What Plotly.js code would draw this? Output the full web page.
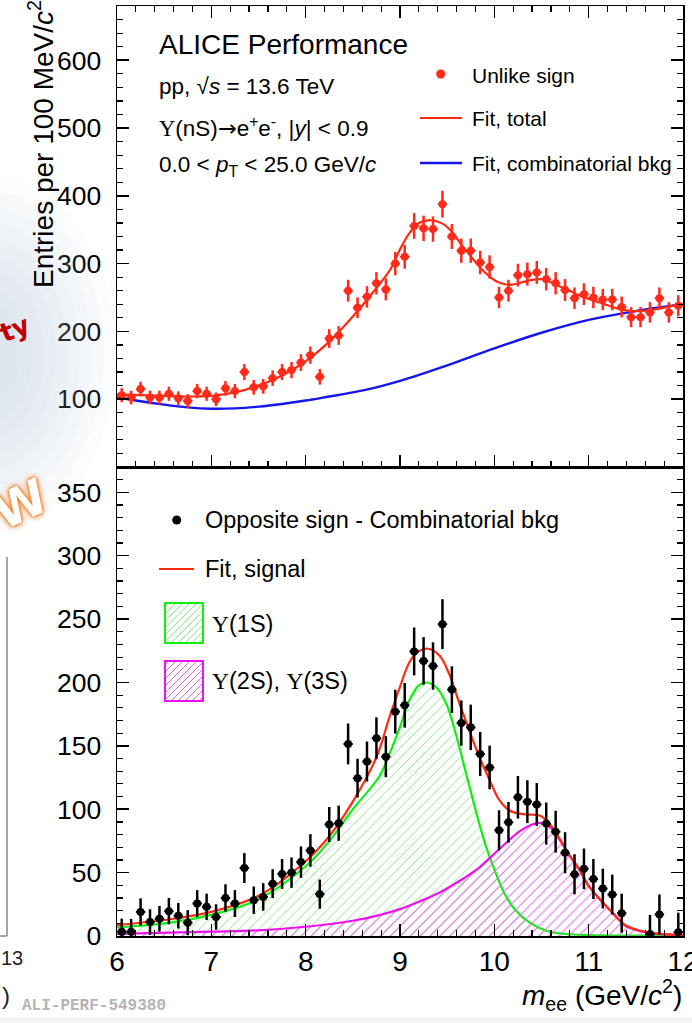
<!DOCTYPE html>
<html><head><meta charset="utf-8">
<script src="https://cdn.plot.ly/plotly-3.0.1.min.js"></script>
<style>html,body{margin:0;padding:0;background:#fff;} #chart{width:692px;height:1023px;}</style>
</head><body><div id="chart"></div>
<script>
// ---------------- data ----------------
const massBins = [6.05,6.15,6.25,6.35,6.45,6.55,6.65,6.75,6.85,6.95,
  7.05,7.15,7.25,7.35,7.45,7.55,7.65,7.75,7.85,7.95,
  8.05,8.15,8.25,8.35,8.45,8.55,8.65,8.75,8.85,8.95,
  9.05,9.15,9.25,9.35,9.45,9.55,9.65,9.75,9.85,9.95,
  10.05,10.15,10.25,10.35,10.45,10.55,10.65,10.75,10.85,10.95,
  11.05,11.15,11.25,11.35,11.45,11.55,11.65,11.75,11.85,11.95];
const unlikeSign = [106,102.5,115,102.5,102.5,108,101.5,97.5,112,108,
  100,116,112,140,117.5,119,131,140,143,154,
  165,133,189.5,194,260,235,251,271,262,300,
  310,355.6,352,351,387.6,340,319,319,301.6,295,
  250,260,283,284.5,287,277,271,261,249,255,
  250,247,247,236,221,221,228,249,228,238];
const oppMinusBkg = [3.4,3.4,19,11,13.6,19.6,16,10.5,25.6,23,
  15,30,25.6,53.6,28.3,30.8,41.3,49,50,58.3,
  67.5,33,88,89,151.5,124.5,137.6,156,141.5,177,
  182,224.5,217,213,246,194.4,168,164.6,143.6,133,
  83.4,89.7,109.4,106,103.8,88.7,82.3,65.7,48.7,53,
  45,37.4,32.7,18,null,null,1.5,17,null,3];
const statErr = [10.3,10.1,10.7,10.1,10.1,10.4,10.1,9.9,10.6,10.4,
  10,10.8,10.6,11.8,10.8,10.9,11.4,11.8,12,12.4,
  12.8,11.5,13.8,13.9,16.1,15.3,15.8,16.5,16.2,17.3,
  17.6,18.9,18.8,18.7,19.7,18.4,17.9,17.9,17.4,17.2,
  15.8,16.1,16.8,16.9,16.9,16.6,16.5,16.2,15.8,16,
  15.8,15.7,15.7,15.4,14.9,14.9,15.1,15.8,15.1,15.4];
const binHalfWidth = [0.05];

const fitTotalX = [6.0,6.25,6.5,6.75,7.0,7.25,7.5,7.75,8.0,8.25,8.5,8.75,8.9,9.0,9.1,9.2,9.33,9.45,9.55,9.65,9.75,9.85,9.95,10.05,10.17,10.28,10.4,10.5,10.6,10.7,10.8,10.9,11.0,11.15,11.3,11.45,11.6,11.75,11.9,12.0];
const fitTotalY = [107,106,105,104,105,110,120,135,156,185,222,264,292,321,345,360,364,359,347,328,311,294,281,272,268.5,272,276,277,273,266,260,253,248,241,234,230,230.5,233.5,238,240];
const fitBkgX = [6.0,6.25,6.5,6.75,7.0,7.25,7.5,7.75,8.0,8.25,8.5,8.75,9.0,9.5,10.0,10.5,11.0,11.5,12.0];
const fitBkgY = [103,97,92,88,86,86.5,89,93,98,104,110,117.5,127,150,175,198,217,230,240];
const fitSignalX = [6.0,6.5,7.0,7.5,8.0,8.25,8.5,8.75,8.89,9.0,9.1,9.2,9.3,9.42,9.52,9.63,9.74,9.84,9.95,10.05,10.16,10.27,10.37,10.48,10.58,10.69,10.79,10.9,11.0,11.15,11.25,11.39,11.53,11.68,12.0];
const fitSignalY = [8.6,12.6,19,31.7,59,78.7,106,141,173,196.5,216,224.7,226.6,221,207,183.4,161,141.5,123,107.5,99,96.5,95.8,95,89,77,64.4,52.6,39.5,26.4,18.6,8.5,4.5,2.2,0.7];
const ups1SX = [6.0,6.5,7.0,7.5,8.0,8.25,8.5,8.78,8.89,9.0,9.1,9.2,9.28,9.38,9.49,9.59,9.7,9.81,9.91,10.02,10.12,10.23,10.37,10.55,10.76,11.0,11.5,12.0];
const ups1SY = [6.8,10,16.7,29,55,74.8,100,125.8,144,165,186,197.8,200,196.5,183.4,160,128.5,97,71,48.7,31.7,19.9,10.7,4.2,1.6,0.8,0.3,0.1];
const ups23SX = [6.0,7.0,7.5,8.0,8.5,8.78,9.0,9.2,9.42,9.63,9.84,10.05,10.27,10.4,10.49,10.58,10.69,10.79,10.9,11.0,11.15,11.25,11.39,11.53,11.68,12.0];
const ups23SY = [1.6,3.4,4.5,7.3,12,16.5,21.2,27,34.3,43.4,54,68.3,82.7,88,89.2,86.5,76,64.4,52.6,39.5,26.4,18.6,8,4.2,2,0.6];

const xTicks = [6,7,8,9,10,11,12];
const topYTicks = [100,200,300,400,500,600];
const botYTicks = [0,50,100,150,200,250,300,350];

// ---------------- geometry helpers (paper coords from page pixels) ----------------
const W=692, H=1023, L=117, R=9, T=6, B=87;
const PW=W-L-R, PH=H-T-B;
const px = x => (x-L)/PW;
const py = y => (H-B-y)/PH;
const split = py(467);

const FONT = 'Liberation Sans, Arial, Helvetica, sans-serif';
const SERIF = 'Liberation Serif';

// ---------------- traces ----------------
const traces = [
  {x:ups1SX, y:ups1SY, xaxis:'x', yaxis:'y', mode:'lines', line:{color:'#11ee11', width:2.2, shape:'spline'},
   fill:'tozeroy', fillcolor:'rgba(0,0,0,0)',
   fillpattern:{shape:'/', fgcolor:'#86e486', bgcolor:'rgba(0,0,0,0)', size:7, solidity:0.14}, hoverinfo:'skip'},
  {x:ups23SX, y:ups23SY, xaxis:'x', yaxis:'y', mode:'lines', line:{color:'#ee11ee', width:2.2, shape:'spline'},
   fill:'tozeroy', fillcolor:'rgba(0,0,0,0)',
   fillpattern:{shape:'/', fgcolor:'#e070e0', bgcolor:'rgba(0,0,0,0)', size:7, solidity:0.15}, hoverinfo:'skip'},
  {x:fitSignalX, y:fitSignalY, xaxis:'x', yaxis:'y', mode:'lines', line:{color:'#ff2a10', width:2.2, shape:'spline'}},
  {x:massBins, y:oppMinusBkg, xaxis:'x', yaxis:'y', mode:'markers', marker:{color:'#000', size:8},
   error_y:{type:'data', array:statErr, color:'#000', thickness:2.5, width:0},
   error_x:{type:'constant', value:binHalfWidth[0], color:'#000', thickness:2, width:0}},
  {x:fitBkgX, y:fitBkgY, xaxis:'x2', yaxis:'y2', mode:'lines', line:{color:'#1515ee', width:2.4, shape:'spline'}},
  {x:fitTotalX, y:fitTotalY, xaxis:'x2', yaxis:'y2', mode:'lines', line:{color:'#ff2a10', width:2.2, shape:'spline'}},
  {x:massBins, y:unlikeSign, xaxis:'x2', yaxis:'y2', mode:'markers', marker:{color:'#ff2a1a', size:8},
   error_y:{type:'data', array:statErr, color:'#ff2a1a', thickness:2.5, width:0},
   error_x:{type:'constant', value:binHalfWidth[0], color:'#ff2a1a', thickness:2, width:0}}
];

// ---------------- axes ----------------
const minorX = {ticks:'inside', ticklen:6, tickwidth:1.2, tickcolor:'#000', tickmode:'linear', tick0:6, dtick:0.2, showgrid:false};
const base = {showline:true, linecolor:'#000', linewidth:1.5, ticks:'inside', ticklen:12, tickwidth:1.5, tickcolor:'#000',
  showgrid:false, zeroline:false, tickfont:{family:FONT, size:26.5, color:'#000'}, ticklabelstandoff:9, fixedrange:true,
  ticklabeloverflow:'allow'};

const layout = {
  width:W, height:H, margin:{l:L, r:R, t:T, b:B}, paper_bgcolor:'#fff', plot_bgcolor:'rgba(0,0,0,0)',
  showlegend:false, font:{family:FONT, color:'#000'},
  xaxis:Object.assign({}, base, {domain:[0,1], anchor:'y', range:[6,12], tickmode:'array', tickvals:xTicks, mirror:true, minor:minorX,
    ticklabelstandoff:0, tickfont:{family:FONT, size:28, color:'#000'}}),
  yaxis:Object.assign({}, base, {domain:[0,split], anchor:'x', range:[0,370], tickmode:'array', tickvals:botYTicks, mirror:'allticks',
    minor:{ticks:'inside', ticklen:6, tickwidth:1.2, tickcolor:'#000', tickmode:'linear', tick0:0, dtick:10, showgrid:false}}),
  xaxis2:Object.assign({}, base, {domain:[0,1], anchor:'y2', range:[6,12], tickmode:'array', tickvals:xTicks, showticklabels:false, mirror:'allticks', minor:minorX}),
  yaxis2:Object.assign({}, base, {domain:[split,1], anchor:'x2', range:[0,680], tickmode:'array', tickvals:topYTicks, mirror:'allticks',
    minor:{ticks:'inside', ticklen:6, tickwidth:1.2, tickcolor:'#000', tickmode:'linear', tick0:0, dtick:20, showgrid:false}}),
  annotations:[], shapes:[]
};

function ann(text, x, y, size, opts){
  layout.annotations.push(Object.assign({text:text, xref:'paper', yref:'paper', x:px(x), y:py(y), xanchor:'left', yanchor:'middle',
    showarrow:false, font:{family:FONT, size:size, color:'#000'}}, opts||{}));
}
function circ(cx, cy, r, color){
  layout.shapes.push({type:'circle', xref:'paper', yref:'paper', x0:px(cx-r), x1:px(cx+r), y0:py(cy+r), y1:py(cy-r),
    fillcolor:color, line:{color:color, width:0}});
}
function seg(x0,y0,x1,y1,color,width){
  layout.shapes.push({type:'line', xref:'paper', yref:'paper', x0:px(x0), y0:py(y0), x1:px(x1), y1:py(y1), line:{color:color, width:width}});
}
function hatchBox(x0,y0,x1,y1,edge,hatch){
  for(let c=x0+y0+4; c<x1+y1; c+=7){
    const xa=Math.max(x0, c-y1), xb=Math.min(x1, c-y0);
    if(xb<=xa) continue;
    seg(xa, c-xa, xb, c-xb, hatch, 1);
  }
  layout.shapes.push({type:'rect', xref:'paper', yref:'paper', x0:px(x0), x1:px(x1), y0:py(y1), y1:py(y0),
    line:{color:edge, width:2}, fillcolor:'rgba(0,0,0,0)'});
}
const U = '<span style="font-family:'+SERIF+'">Υ</span>';
const ARROW = '<span style="font-family:DejaVu Sans">→</span>';

// slide decorations at the left edge (soft bluish haze, kept left of the frame)
for(const [rx, ry] of [[128,180],[116,164],[104,148],[92,132],[80,116],[68,100],[56,84],[44,68],[32,52]]){
  layout.shapes.push({type:'circle', xref:'paper', yref:'paper', layer:'above', x0:px(-12-rx), x1:px(-12+rx), y0:py(355+ry), y1:py(355-ry),
    fillcolor:'#a9bce0', opacity:0.05, line:{width:0}});
}

// top panel texts
ann('ALICE Performance', 157, 44, 28);
ann('pp, √<i>s</i> = 13.6 TeV', 157, 87, 22.5);
ann(U+'(nS)'+ARROW+'e<sup>+</sup>e<sup>-</sup>, |<i>y</i>| &lt; 0.9', 157, 127, 22.5);
ann('0.0 &lt; <i>p</i><sub>T</sub> &lt; 25.0 GeV/<i>c</i>', 157, 166, 22.5);
// top legend
circ(440.7, 74, 4.5, '#ff2a1a');
ann('Unlike sign', 470, 75, 21);
seg(420, 118, 462, 118, '#ff2a10', 2.2);
ann('Fit, total', 470, 118, 21);
seg(420, 163, 462, 163, '#1515ee', 2.4);
ann('Fit, combinatorial bkg', 470, 163, 21);

// bottom legend
circ(176.7, 520, 4.5, '#000');
ann('Opposite sign - Combinatorial bkg', 203, 520, 23.5);
seg(159, 569, 194, 569, '#ff2a10', 2.2);
ann('Fit, signal', 203, 569, 23.5);
hatchBox(165, 603, 203, 643, '#11ee11', '#86e486');
ann(U+'(1S)', 210, 624, 23.5);
hatchBox(165, 661, 203, 701, '#ee11ee', '#e070e0');
ann(U+'(2S), '+U+'(3S)', 210, 681, 23.5);

// axis titles
ann('<i>m</i><sub>ee</sub> (GeV/<i>c</i><sup>2</sup>)', 684, 995, 28, {xanchor:'right'});
ann('Entries per 100 MeV/<i>c</i><sup>2</sup>', 41, -2, 28, {xanchor:'center', yanchor:'top', textangle:-90});

// footer label
ann('ALI-PERF-549380', 20, 1006, 16, {font:{family:'Liberation Mono, monospace', size:16, color:'#b4b4b4', weight:'bold'}});

ann('ty', 14, 329, 26, {xanchor:'center', textangle:-22, font:{family:'DejaVu Sans, sans-serif', size:26, color:'#c00000', weight:'bold'}});
ann('W', 20, 504, 48, {xanchor:'center', textangle:-25,
  font:{family:'DejaVu Sans, sans-serif', size:48, color:'#ffffff', weight:'bold', shadow:'0 0 3px #f07a20, 0 0 4px #f07a20, 0 0 7px #f59040'}});
seg(7, 557, 7, 936, '#888', 1.5);
seg(0, 936, 7, 936, '#888', 1.5);
ann('13', -1, 958, 20, {font:{family:FONT, size:20, color:'#222'}});
ann(')', 0, 995, 24, {font:{family:FONT, size:24, color:'#222'}});
layout.shapes.push({type:'rect', xref:'paper', yref:'paper', x0:px(0), x1:px(692), y0:py(1023), y1:py(1017), fillcolor:'#f2f2f2', line:{width:0}});

Plotly.newPlot('chart', traces, layout, {staticPlot:true, displayModeBar:false});
</script></body></html>
